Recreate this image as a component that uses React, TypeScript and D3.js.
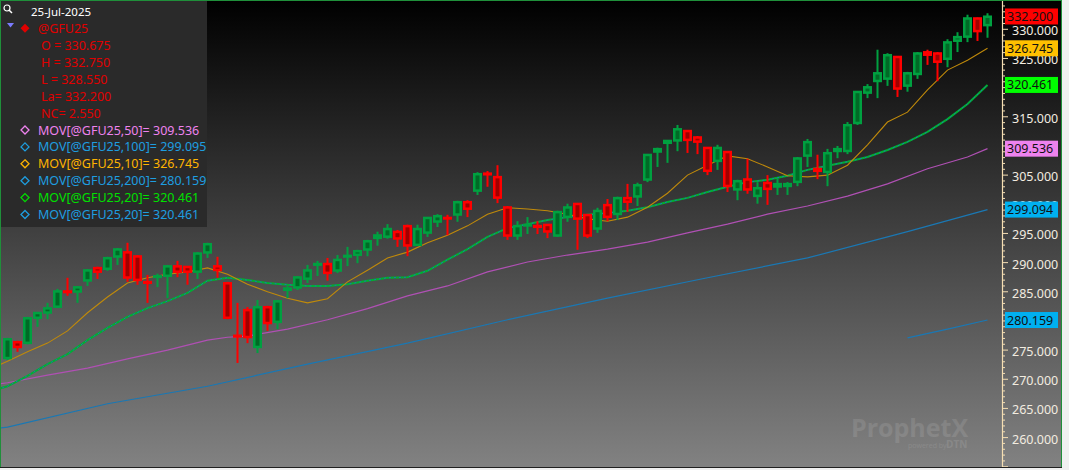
import React from 'react'
import * as d3 from 'd3'

// daily OHLC for @GFU25, oldest first
const opens = [
  273.6, 276.4, 276.2, 280.5, 281.4, 282.4, 285.1, 285.0, 286.9, 289.1,
  288.9, 291.0, 291.8, 291.1, 286.7, 287.5, 287.7, 289.4, 289.3, 288.4,
  291.7, 289.4, 286.5, 277.5, 281.9, 275.5, 282.4, 279.8, 285.3, 285.7,
  287.2, 289.6, 289.8, 288.6, 291.0, 291.3, 292.2, 294.2, 294.4, 295.3,
  296.3, 293.0, 295.1, 297.0, 297.7, 298.2, 300.4, 302.3, 305.3, 304.7,
  299.5, 294.6, 296.4, 296.3, 296.5, 294.6, 297.8, 300.1, 298.2, 295.8,
  299.9, 298.3, 301.1, 301.3, 304.2, 309.0, 310.5, 310.9, 312.6, 311.5,
  309.7, 307.4, 309.0, 302.5, 304.3, 301.4, 303.7, 303.0, 303.1, 303.8,
  308.3, 306.1, 305.5, 309.1, 309.1, 313.9, 319.1, 321.1, 321.5, 325.3,
  320.3, 322.3, 326.1, 325.9, 324.9, 328.0, 328.7, 331.9, 330.675,
]
const highs = [
  277.1, 276.6, 280.7, 281.5, 283.1, 285.5, 287.4, 286.0, 288.9, 289.3,
  291.0, 292.5, 293.4, 291.3, 287.9, 288.1, 289.6, 290.3, 289.4, 291.8,
  293.4, 291.0, 286.7, 283.1, 282.4, 283.6, 282.6, 283.6, 286.0, 287.7,
  289.6, 290.3, 290.8, 291.3, 292.7, 292.2, 293.9, 295.3, 296.6, 295.6,
  296.5, 296.5, 297.8, 298.3, 298.2, 300.6, 300.7, 305.5, 305.7, 306.7,
  299.7, 297.1, 297.8, 297.1, 296.6, 298.9, 300.1, 300.2, 298.3, 299.4,
  300.9, 301.3, 303.5, 303.7, 308.6, 309.7, 311.0, 313.6, 312.7, 311.7,
  309.8, 310.2, 309.1, 304.2, 307.8, 303.8, 305.0, 304.5, 303.8, 308.1,
  311.2, 308.5, 309.5, 310.0, 314.1, 319.4, 320.6, 326.5, 325.9, 325.4,
  322.7, 326.1, 326.5, 326.1, 328.3, 329.5, 332.5, 332.0, 332.75,
]
const lows = [
  273.3, 274.7, 276.0, 279.0, 280.3, 282.2, 284.3, 283.1, 286.0, 287.2,
  288.6, 289.6, 286.7, 286.2, 283.1, 285.8, 283.9, 287.5, 286.2, 287.2,
  290.8, 287.4, 280.3, 272.8, 276.2, 274.5, 278.3, 278.6, 283.9, 285.3,
  286.5, 287.7, 286.9, 288.2, 289.4, 289.9, 291.1, 292.9, 294.1, 292.7,
  291.1, 292.9, 294.4, 296.1, 294.7, 297.0, 297.8, 301.6, 303.0, 300.2,
  293.9, 293.9, 294.9, 294.9, 294.2, 294.4, 297.0, 292.2, 294.2, 295.1,
  297.1, 297.3, 298.7, 299.7, 303.8, 306.4, 307.1, 309.1, 308.8, 308.6,
  305.0, 305.9, 302.1, 300.7, 301.8, 300.1, 299.9, 301.6, 301.6, 303.1,
  306.4, 304.3, 303.1, 307.9, 308.6, 313.6, 318.2, 318.2, 320.3, 318.4,
  319.3, 321.5, 323.9, 321.1, 323.5, 326.1, 327.8, 328.0, 328.55,
]
const closes = [
  276.9, 275.5, 280.5, 281.4, 282.2, 285.1, 284.9, 285.8, 288.7, 288.4,
  290.8, 292.3, 287.4, 287.0, 286.5, 287.7, 289.4, 288.4, 288.4, 291.6,
  293.2, 288.7, 280.5, 277.3, 277.2, 282.4, 279.6, 283.4, 285.6, 287.5,
  288.7, 289.8, 288.2, 290.5, 291.2, 292.0, 293.7, 294.7, 295.8, 294.1,
  292.9, 295.8, 297.7, 298.0, 297.6, 300.4, 299.2, 305.2, 305.1, 301.1,
  294.6, 296.3, 296.5, 296.1, 295.3, 298.7, 299.5, 297.5, 294.6, 298.9,
  297.8, 301.1, 300.4, 303.3, 308.5, 309.5, 310.9, 312.9, 311.0, 310.7,
  305.7, 309.7, 303.1, 304.0, 302.5, 302.8, 302.6, 303.5, 303.5, 307.9,
  310.7, 305.7, 308.8, 309.5, 313.6, 319.3, 320.1, 322.5, 325.6, 319.8,
  322.5, 325.9, 325.6, 324.4, 327.8, 328.7, 331.9, 329.65, 332.2,
]

// moving averages: [bar index, value]
const mov10 = [
  [-1, 272.3], [0, 273.1], [2, 274.7], [4, 276.2], [6, 278.3], [8, 281.4], [10, 284.1],
  [12, 286.5], [14, 287.4], [16, 288.0], [18, 288.4], [20, 289.1], [22, 288.0], [24, 286.3],
  [26, 285.0], [28, 283.9], [30, 283.1], [32, 283.8], [34, 286.7], [36, 288.7], [38, 290.8],
  [40, 291.8], [42, 293.4], [44, 294.7], [46, 296.3], [48, 298.3], [50, 299.4], [52, 299.2],
  [54, 298.9], [56, 298.3], [58, 297.5], [60, 297.1], [62, 297.8], [64, 299.5], [66, 301.9],
  [68, 305.0], [70, 306.7], [72, 308.3], [74, 307.8], [76, 306.4], [78, 304.9], [80, 304.7],
  [82, 305.0], [84, 306.7], [86, 310.2], [88, 314.1], [90, 315.8], [92, 319.6], [94, 323.0],
  [96, 324.7], [98, 326.745],
]
const mov20 = [
  [-1, 268.3], [0, 268.8], [2, 270.6], [4, 272.6], [6, 274.3], [8, 276.7], [10, 278.8],
  [12, 280.7], [14, 282.2], [16, 283.4], [18, 284.8], [20, 286.9], [22, 287.4], [24, 287.0],
  [26, 286.5], [28, 286.2], [30, 286.0], [32, 286.0], [34, 286.3], [36, 286.9], [38, 287.4],
  [40, 287.5], [42, 288.6], [44, 290.5], [46, 292.3], [48, 294.4], [50, 295.9], [52, 296.6],
  [54, 297.3], [56, 297.8], [58, 298.2], [60, 298.5], [62, 298.9], [64, 299.5], [66, 300.4],
  [68, 301.1], [70, 302.1], [72, 303.0], [74, 303.8], [76, 304.2], [78, 304.9], [80, 305.9],
  [82, 306.6], [84, 307.3], [86, 308.1], [88, 309.3], [90, 310.7], [92, 312.4], [94, 314.6],
  [96, 317.2], [98, 320.461],
]
const mov50 = [
  [-1, 269.2], [0, 269.4], [4, 270.7], [8, 271.9], [12, 273.5], [16, 275.0], [20, 276.7],
  [22, 277.2], [24, 277.4], [28, 278.6], [32, 280.2], [36, 282.1], [40, 284.3], [44, 286.0],
  [48, 288.4], [52, 290.1], [56, 291.3], [60, 292.3], [64, 293.5], [68, 295.1], [72, 296.6],
  [76, 298.3], [80, 299.7], [84, 301.4], [88, 303.5], [92, 306.1], [96, 308.1], [98, 309.536],
]
const mov100 = [
  [-1, 261.6], [0, 261.8], [10, 265.8], [20, 268.8], [30, 272.6], [40, 276.2], [50, 280.2],
  [60, 283.9], [70, 287.4], [80, 290.8], [90, 295.3], [98, 299.095],
]
const mov200 = [[90, 277.1], [94, 278.6], [98, 280.159]]

const priceTicks = d3.range(260, 331, 5)
const badgeValues = [332.2, 326.745, 320.461, 309.536, 299.094, 280.159]
const badgeColors = ['#ff0000', '#ffc000', '#00ff00', '#ee82ee', '#00b0f0', '#00b0f0']

const legendDate = '25-Jul-2025'
const legendSymbol = '@GFU25'
const legendQuote = ['O = 330.675', 'H = 332.750', 'L = 328.550', 'La= 332.200', 'NC= 2.550']
const legendStudies = [
  'MOV[@GFU25,50]= 309.536',
  'MOV[@GFU25,100]= 299.095',
  'MOV[@GFU25,10]= 326.745',
  'MOV[@GFU25,200]= 280.159',
  'MOV[@GFU25,20]= 320.461',
  'MOV[@GFU25,20]= 320.461',
]
const legendColors = ['#ee82ee', '#1e9ee0', '#ffb400', '#1e9ee0', '#00e000', '#1e9ee0']

const W = 1069
const H = 470
const FONT = "'Noto Sans', sans-serif"
const UP = '#00a040'
const UP_FILL = '#006a26'
const DN = '#ff0000'
const DN_FILL = '#a00000'

export default function App() {
  const x = d3.scaleLinear().domain([0, 98]).range([7.5, 987.5])
  const y = d3.scaleLinear().domain([260, 330]).range([437.6, 29.3])
  const line = d3
    .line<number[]>()
    .x((d) => x(d[0]))
    .y((d) => y(d[1]))

  const bars = opens.map((o, i) => ({ i, o, h: highs[i], l: lows[i], c: closes[i] }))
  const minor = d3.range(255, 335)
  // labels sitting right under a price badge are not drawn (hidden in the original)
  const labels = priceTicks.filter((v) => badgeValues.every((b) => Math.abs(y(b) - y(v)) > 4))

  return (
    <svg width={W} height={H} style={{ position: 'absolute', left: 0, top: 0 }}>
      <defs>
        <linearGradient id="bg" x1="0" y1="0" x2="0" y2="1">
          <stop offset="0" stopColor="#000000" />
          <stop offset="1" stopColor="#828282" />
        </linearGradient>
        <clipPath id="plot">
          <rect x={1} y={1} width={1001} height={466} />
        </clipPath>
      </defs>
      <rect width={W} height={H} fill="#f0f0f0" />
      <rect x={0} y={0} width={1062} height={468} fill="url(#bg)" />

      {/* watermark */}
      <g fill="#ffffff" opacity={0.1} fontFamily="'Open Sans', sans-serif">
        <text x={851} y={437} fontSize={25} fontWeight="bold">ProphetX</text>
        <text x={908} y={448} fontSize={7}>powered by</text>
        <text x={946} y={448} fontSize={10} fontWeight="bold">DTN</text>
      </g>

      <g clipPath="url(#plot)">
        <path d={line(mov200) || ''} fill="none" stroke="#1a78b4" strokeWidth={1.2} />
        <path d={line(mov100) || ''} fill="none" stroke="#1a78b4" strokeWidth={1.2} />
        <path d={line(mov50) || ''} fill="none" stroke="#b050b4" strokeWidth={1.2} />
        <path d={line(mov20) || ''} fill="none" stroke="#00b030" strokeWidth={2} />
        <path d={line(mov20) || ''} fill="none" stroke="#1a78b4" strokeWidth={1} strokeDasharray="2 3" />
        <path d={line(mov10) || ''} fill="none" stroke="#c08a0a" strokeWidth={1.1} />

        {bars.map((b) => {
          const cx = x(b.i)
          const up = b.c >= b.o
          const top = y(Math.max(b.o, b.c))
          const bot = y(Math.min(b.o, b.c))
          const hgt = Math.max(bot - top + 2, 3)
          return (
            <g key={b.i}>
              <rect x={cx - 1} y={y(b.h)} width={2} height={y(b.l) - y(b.h)} fill={up ? UP : DN} />
              <rect x={cx - 4.5} y={top - 1} width={9} height={hgt} fill={up ? UP : DN} />
              {bot - top > 3 && (
                <rect x={cx - 2} y={top + 1.5} width={4} height={bot - top - 3} fill={up ? UP_FILL : DN_FILL} />
              )}
            </g>
          )
        })}
      </g>

      {/* price axis */}
      <line x1={1002.5} y1={0} x2={1002.5} y2={468} stroke="#f5deb3" strokeWidth={1.2} />
      {minor.map((v) => (
        <line
          key={v}
          x1={1002}
          x2={v % 5 === 0 ? 1008 : 1005}
          y1={y(v)}
          y2={y(v)}
          stroke="#f5deb3"
          strokeWidth={1}
        />
      ))}
      {labels.map((v) => (
        <text key={v} x={1012} y={y(v) + 6} fontFamily={FONT} fontSize={12.5} fill="#f2ece0">
          {v.toFixed(3)}
        </text>
      ))}
      {badgeValues.map((v, i) => (
        <g key={i}>
          <rect x={1005} y={y(v) - 8} width={53} height={16} fill={badgeColors[i]} />
          <text x={1007} y={y(v) + 4.5} fontFamily={FONT} fontSize={12.5} fill="#111">
            {v.toFixed(3)}
          </text>
        </g>
      ))}

      {/* legend */}
      <rect x={0} y={0} width={207} height={227} fill="#2a2a2a" />
      <circle cx={7} cy={8} r={3} fill="none" stroke="#ffffff" strokeWidth={1.2} />
      <line x1={9} y1={10} x2={12} y2={13} stroke="#ffffff" strokeWidth={1.5} />
      <text x={31} y={16} fontFamily={FONT} fontSize={11.5} fill="#ffffff">{legendDate}</text>
      <polygon points="7,23 14,23 10.5,27.5" fill="#7b7bff" />
      <polygon points="25,23.8 29.5,28.3 25,32.8 20.5,28.3" fill="#e00000" />
      <text x={38} y={33} fontFamily={FONT} fontSize={12.5} fill="#e00000">{legendSymbol}</text>
      {legendQuote.map((t, i) => (
        <text key={t} x={41} y={50 + i * 16.9} fontFamily={FONT} fontSize={12.5} fill="#e00000">
          {t}
        </text>
      ))}
      {legendStudies.map((t, i) => {
        const by = 134.5 + i * 16.9
        return (
          <g key={i}>
            <polygon
              points={`25,${by - 8.5} 29,${by - 4.5} 25,${by - 0.5} 21,${by - 4.5}`}
              fill="none"
              stroke={legendColors[i]}
              strokeWidth={1.3}
            />
            <text x={38} y={by} fontFamily={FONT} fontSize={12.5} fill={legendColors[i]}>
              {t}
            </text>
          </g>
        )
      })}

      {/* frame */}
      <line x1={0.5} y1={0} x2={0.5} y2={468} stroke="#1f8f3a" />
      <line x1={0} y1={0.5} x2={1062} y2={0.5} stroke="#1f8f3a" />
      <line x1={1061.5} y1={0} x2={1061.5} y2={468} stroke="#1f8f3a" />
      <line x1={0} y1={467.5} x2={1062} y2={467.5} stroke="#202020" />
    </svg>
  )
}
